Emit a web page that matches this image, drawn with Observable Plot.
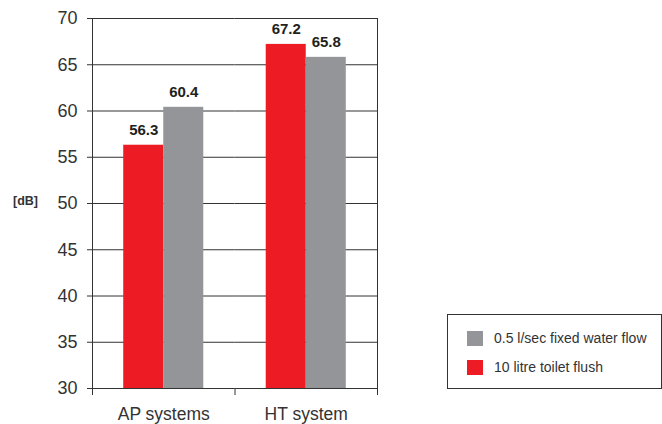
<!DOCTYPE html>
<html>
<head>
<meta charset="utf-8">
<script src="https://cdn.jsdelivr.net/npm/d3@7"></script>
<script src="https://cdn.jsdelivr.net/npm/@observablehq/plot@0.6"></script>
<style>
  html, body { margin: 0; padding: 0; background: #fff; }
  #wrap { position: relative; width: 662px; height: 424px; font-family: "Liberation Sans", Arial, sans-serif; color: #333; }
  #wrap svg { position: absolute; left: 0; top: 0; }
  #unit { position: absolute; left: 13px; top: 194px; font-size: 12.5px; font-weight: bold; color: #333; }
  #legend { position: absolute; left: 447px; top: 314px; width: 213px; height: 73px; border: 1px solid #333; box-sizing: content-box; }
  .item { position: absolute; left: 19px; height: 16px; display: flex; align-items: center; font-size: 14px; color: #333; white-space: nowrap; }
  .sw { width: 16px; height: 15px; margin-right: 11px; flex: none; }
</style>
</head>
<body>
<div id="wrap"></div>
<script>
const categories = ["AP systems", "HT system"];
const series = ["10 litre toilet flush", "0.5 l/sec fixed water flow"];
const flushValues = [56.3, 67.2];
const flowValues = [60.4, 65.8];
const yTicks = [30, 35, 40, 45, 50, 55, 60, 65, 70];
const colors = ["#ED1C24", "#939598"];
const legendOrder = [1, 0];
const unitLabel = "[dB]";

const table = categories.flatMap((c, i) => [
  {category: c, series: series[0], value: flushValues[i]},
  {category: c, series: series[1], value: flowValues[i]}
]);
const yMin = yTicks[0], yMax = yTicks[yTicks.length - 1];
const H = 424, MT = 18, MB = 36;
const plotH = H - MT - MB;

const chart = Plot.plot({
  width: 662,
  height: H,
  marginLeft: 92,
  marginRight: 285,
  marginTop: MT,
  marginBottom: MB,
  style: {fontFamily: "'Liberation Sans', Arial, sans-serif", color: "#333", background: "transparent"},
  fx: {domain: categories, padding: 0, label: null, round: false, axis: null},
  x: {domain: series, paddingInner: 0, paddingOuter: 0.78, axis: null, round: false},
  y: {domain: [yMin, yMax], label: null},
  color: {domain: series, range: colors},
  marks: [
    Plot.gridY(yTicks, {stroke: "#333", strokeOpacity: 1, strokeWidth: 1}),
    Plot.frame({facet: "super", anchor: "left", insetBottom: -6, stroke: "#333"}),
    Plot.frame({facet: "super", anchor: "right", insetBottom: -6, stroke: "#333"}),
    Plot.frame({anchor: "left", insetTop: plotH, insetBottom: -6, stroke: "#333"}),
    Plot.barY(table, {fx: "category", x: "series", y1: yMin, y2: "value", fill: "series"}),
    Plot.text(table, {fx: "category", x: "series", y: "value", text: d => d.value.toFixed(1), dy: -15, fontWeight: "bold", fontSize: 15, fill: "#231f20"}),
    Plot.axisY({ticks: yTicks, tickSize: 5, tickPadding: 10, fontSize: 18, label: null, stroke: "#333"}),
    Plot.axisFx({anchor: "bottom", tickSize: 0, tickPadding: 19, fontSize: 17.5, label: null})
  ]
});

const wrap = document.getElementById("wrap");
wrap.appendChild(chart);

const unit = document.createElement("div");
unit.id = "unit";
unit.textContent = unitLabel;
wrap.appendChild(unit);

const legend = document.createElement("div");
legend.id = "legend";
legendOrder.forEach((k, j) => {
  const item = document.createElement("div");
  item.className = "item";
  item.style.top = (15 + j * 29) + "px";
  const sw = document.createElement("span");
  sw.className = "sw";
  sw.style.background = colors[k];
  const lab = document.createElement("span");
  lab.textContent = series[k];
  item.appendChild(sw);
  item.appendChild(lab);
  legend.appendChild(item);
});
wrap.appendChild(legend);
</script>
</body>
</html>
